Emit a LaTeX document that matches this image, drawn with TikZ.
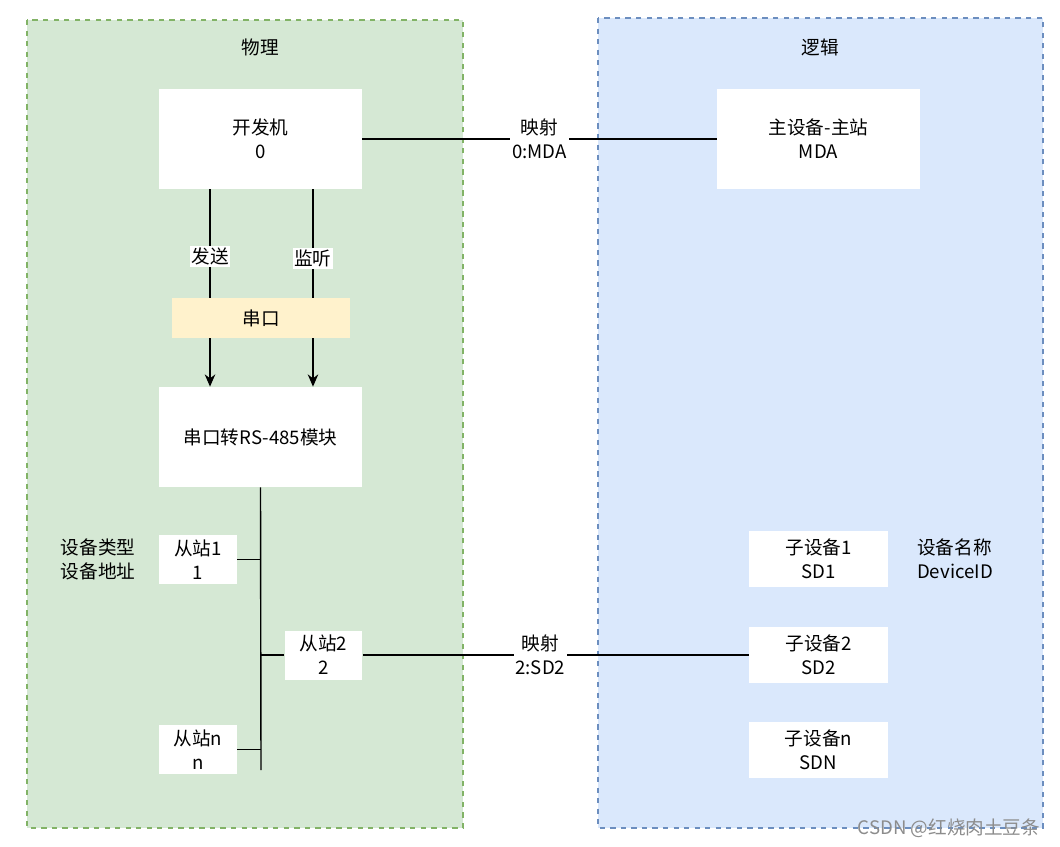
\documentclass[tikz,border=0pt]{standalone}
\usepackage{fontspec}
\setmainfont{Noto Sans CJK SC}
\usetikzlibrary{positioning, arrows.meta}

\definecolor{physfill}{HTML}{D5E8D4}
\definecolor{physline}{HTML}{82B366}
\definecolor{logicfill}{HTML}{DAE8FC}
\definecolor{logicline}{HTML}{6C8EBF}
\definecolor{portfill}{HTML}{FFF2CC}

\begin{document}
\begin{tikzpicture}[
    x=0.02cm, y=-0.02cm,
    font=\fontsize{10.6}{13.6}\selectfont,
    panel/.style={dashed, line width=0.6pt},
    bigbox/.style={
        rectangle, fill=white, align=center,
        minimum width=4.06cm, minimum height=2cm
    },
    slavebox/.style={
        rectangle, fill=white, align=center, inner sep=0pt,
        minimum width=1.56cm, minimum height=0.98cm
    },
    subbox/.style={
        rectangle, fill=white, align=center,
        minimum width=2.78cm, minimum height=1.12cm
    },
    wire/.style={line width=0.8pt},
    sendarrow/.style={-{Stealth[length=7pt, width=6pt]}, line width=0.8pt},
    edgelabel/.style={fill=white, inner sep=1pt, align=center}
]
\useasboundingbox (0,0) rectangle (1060,846);

% Panels
\draw[panel, draw=physline, fill=physfill] (27,20) rectangle (463,828);
\draw[panel, draw=logicline, fill=logicfill] (598,18) rectangle (1043,828);
\node (phystitle) at (260,47) {物理};
\node (logictitle) at (820,47) {逻辑};

% Physical side
\node[bigbox] (devhost) at (260.5,139) {开发机\\0};
\node[bigbox] (converter) at (260.5,437) {串口转RS-485模块};
\node[slavebox] (slave1) at (198,559.5) {从站1\\1};
\node[slavebox] (slave2) at (323.5,655) {从站2\\2};
\node[slavebox] (slaven) at (198,749.5) {从站n\\n};
\node[align=left] (slavenote) at (98,559) {设备类型\\设备地址};

% Logical side
\node[bigbox] (master) at (818.5,139) {主设备-主站\\MDA};
\node[subbox] (subdev1) at (818.5,559) {子设备1\\SD1};
\node[subbox] (subdev2) at (818.5,655) {子设备2\\SD2};
\node[subbox] (subdevn) at (818.5,750) {子设备n\\SDN};
\node[align=left] (subnote) at (955,559) {设备名称\\DeviceID};

% Send / listen through the serial port
\draw[sendarrow] ([xshift=-1.01cm]devhost.south) -- node[edgelabel, pos=0.34] {发送} ([xshift=-1.01cm]converter.north);
\draw[sendarrow] ([xshift=1.05cm]devhost.south) -- node[edgelabel, pos=0.35] {监听} ([xshift=1.05cm]converter.north);
\node[fill=portfill, minimum width=3.56cm, minimum height=0.8cm] (serialport) at (261,318) {串口};

% RS-485 bus
\coordinate (busend) at (261,770);
\draw[wire] (converter.south) -- (busend);
\draw[wire] (slave1.east) -- (slave1.east -| busend);
\draw[wire] (slave2.west) -- (slave2.west -| busend);
\draw[wire] (slaven.east) -- (slaven.east -| busend);

% Mapping
\draw[wire] (devhost.east) -- node[edgelabel] {映射\\0:MDA} (master.west);
\draw[wire] (slave2.east) -- node[edgelabel, pos=0.46] {映射\\2:SD2} (subdev2.west);

\node[text=black!45] (watermark) at (949,828) {CSDN @红烧肉土豆条};

\end{tikzpicture}
\end{document}
